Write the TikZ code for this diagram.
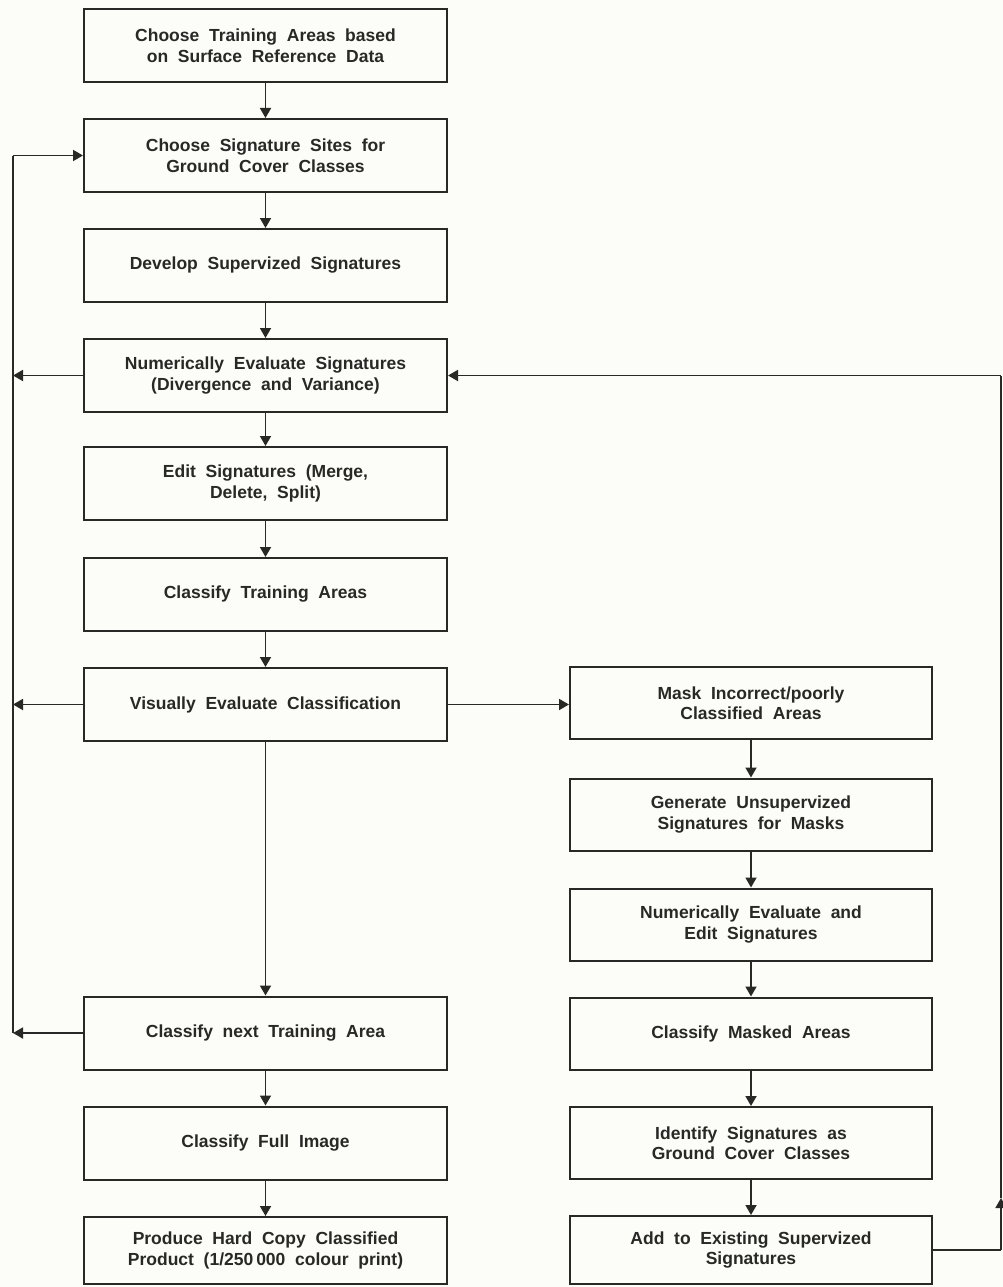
\documentclass[tikz,border=0pt]{standalone}
\usepackage{fontspec}
\setmainfont[WordSpace=2]{Liberation Sans}
\usetikzlibrary{arrows.meta}
\definecolor{ink}{RGB}{40,40,38}
\definecolor{paper}{RGB}{252,252,248}
\begin{document}
\begin{tikzpicture}[x=1pt,y=-1pt,
  box/.style={draw=ink, line width=2pt, minimum width=363pt, minimum height=73pt,
    align=center, inner sep=0pt, text=ink,
    font=\bfseries\fontsize{17.5}{20.5}\selectfont},
  link/.style={draw=ink, line width=1.8pt},
  flow/.style={link, -{Triangle[length=10pt,width=11pt]}}]
\useasboundingbox[fill=paper] (0,0) rectangle (1003,1287);

% main (supervised) column
\node[box] (L1) at (265.5,45.5)  {Choose Training Areas based\\on Surface Reference Data};
\node[box] (L2) at (265.5,155.5) {Choose Signature Sites for\\Ground Cover Classes};
\node[box] (L3) at (265.5,265.5) {Develop Supervized Signatures};
\node[box] (L4) at (265.5,375.5) {Numerically Evaluate Signatures\\(Divergence and Variance)};
\node[box] (L5) at (265.5,483.5) {Edit Signatures (Merge,\\Delete, Split)};
\node[box] (L6) at (265.5,594.5) {Classify Training Areas};
\node[box] (L7) at (265.5,704.5) {Visually Evaluate Classification};
\node[box] (L8) at (265.5,1033)  {Classify next Training Area};
\node[box] (L9) at (265.5,1143)  {Classify Full Image};
\node[box, minimum height=67pt] (L10) at (265.5,1250.5) {Produce Hard Copy Classified\\Product (1/250\,000 colour print)};

% unsupervised refinement column
\node[box, minimum width=362pt, minimum height=72pt] (R1) at (751,703)    {Mask Incorrect/poorly\\Classified Areas};
\node[box, minimum width=362pt, minimum height=72pt] (R2) at (751,814.5)  {Generate Unsupervized\\Signatures for Masks};
\node[box, minimum width=362pt, minimum height=72pt] (R3) at (751,924.5)  {Numerically Evaluate and\\Edit Signatures};
\node[box, minimum width=362pt, minimum height=72pt] (R4) at (751,1033.5) {Classify Masked Areas};
\node[box, minimum width=362pt, minimum height=72pt] (R5) at (751,1143)   {Identify Signatures as\\Ground Cover Classes};
\node[box, minimum width=362pt, minimum height=68pt] (R6) at (751,1250)   {Add to Existing Supervized\\Signatures};

% downward flow
\draw[flow] (L1) -- (L2);
\draw[flow] (L2) -- (L3);
\draw[flow] (L3) -- (L4);
\draw[flow] (L4) -- (L5);
\draw[flow] (L5) -- (L6);
\draw[flow] (L6) -- (L7);
\draw[flow] (L7) -- (L8);
\draw[flow] (L8) -- (L9);
\draw[flow] (L9) -- (L10);
\draw[flow] (R1) -- (R2);
\draw[flow] (R2) -- (R3);
\draw[flow] (R3) -- (R4);
\draw[flow] (R4) -- (R5);
\draw[flow] (R5) -- (R6);

% branch to the unsupervised column
\draw[flow] (L7.east) -- (L7.east -| R1.west);

% left feedback loop
\coordinate (lt) at (13,155.5);
\coordinate (l4) at (13,375.5);
\coordinate (l7) at (13,704.5);
\coordinate (l8) at (13,1033);
\draw[flow] (L4.west) -- (l4);
\draw[flow] (L7.west) -- (l7);
\draw[flow] (L8.west) -- (l8);
\draw[link] (l8) -- (lt);
\draw[flow] (lt) -- (L2.west);

% right feedback loop
\coordinate (rb) at (1001,1250);
\coordinate (rm) at (1001,1198);
\coordinate (rt) at (1001,375.5);
\draw[link] (R6.east) -- (rb);
\draw[flow] (rb) -- (rm);
\draw[link] (rm) -- (rt);
\draw[flow] (rt) -- (L4.east);
\end{tikzpicture}
\end{document}
